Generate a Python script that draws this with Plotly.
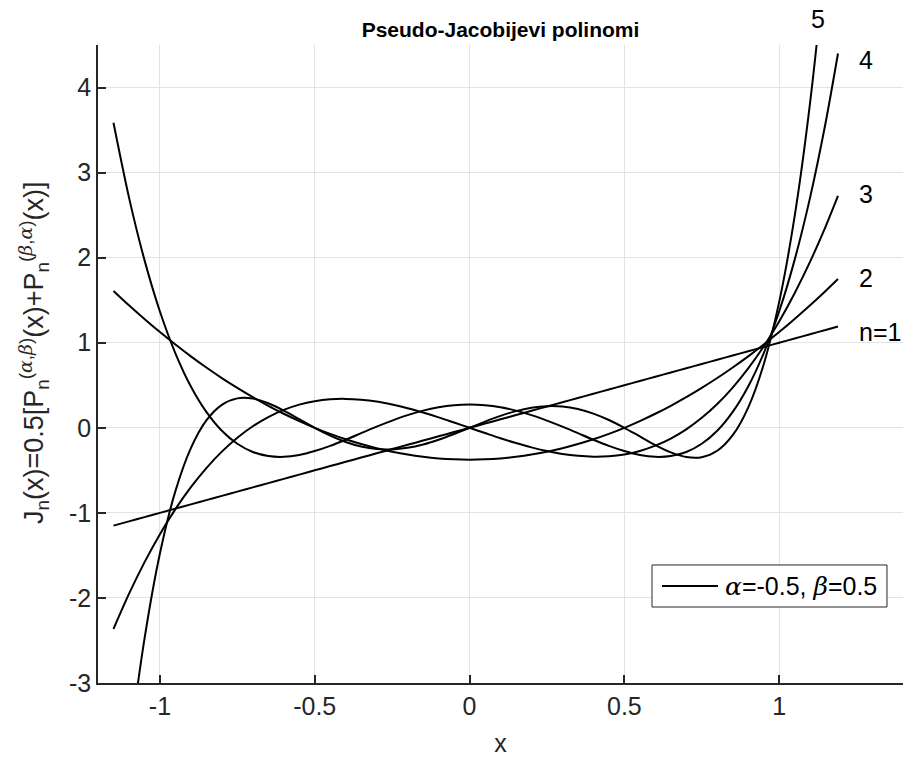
import plotly.graph_objects as go

# Sample abscissae of the curves
x = [-1.15, -1.10, -1.05, -1.00, -0.95, -0.90, -0.85, -0.80, -0.75, -0.70, -0.65, -0.60,
     -0.55, -0.50, -0.45, -0.40, -0.35, -0.30, -0.25, -0.20, -0.15, -0.10, -0.05, 0.00,
     0.05, 0.10, 0.15, 0.20, 0.25, 0.30, 0.35, 0.40, 0.45, 0.50, 0.55, 0.60,
     0.65, 0.70, 0.75, 0.80, 0.85, 0.90, 0.95, 1.00, 1.05, 1.10, 1.15, 1.19]

# Pseudo-Jacobi polynomial values J_n(x), alpha=-0.5, beta=0.5
j1 = [-1.15, -1.10, -1.05, -1.00, -0.95, -0.90, -0.85, -0.80, -0.75, -0.70, -0.65, -0.60,
      -0.55, -0.50, -0.45, -0.40, -0.35, -0.30, -0.25, -0.20, -0.15, -0.10, -0.05, 0.00,
      0.05, 0.10, 0.15, 0.20, 0.25, 0.30, 0.35, 0.40, 0.45, 0.50, 0.55, 0.60,
      0.65, 0.70, 0.75, 0.80, 0.85, 0.90, 0.95, 1.00, 1.05, 1.10, 1.15, 1.19]

j2 = [1.609, 1.440, 1.279, 1.125, 0.979, 0.840, 0.709, 0.585, 0.469, 0.360, 0.259, 0.165,
      0.079, 0.000, -0.071, -0.135, -0.191, -0.240, -0.281, -0.315, -0.341, -0.360, -0.371, -0.375,
      -0.371, -0.360, -0.341, -0.315, -0.281, -0.240, -0.191, -0.135, -0.071, 0.000, 0.079, 0.165,
      0.259, 0.360, 0.469, 0.585, 0.709, 0.840, 0.979, 1.125, 1.279, 1.440, 1.609, 1.749]

j3 = [-2.365, -1.953, -1.582, -1.250, -0.956, -0.698, -0.473, -0.280, -0.117, 0.018, 0.126, 0.210,
      0.272, 0.313, 0.335, 0.340, 0.330, 0.308, 0.273, 0.230, 0.179, 0.123, 0.062, 0.000,
      -0.062, -0.123, -0.179, -0.230, -0.273, -0.308, -0.330, -0.340, -0.335, -0.313, -0.272, -0.210,
      -0.126, -0.018, 0.117, 0.280, 0.473, 0.698, 0.956, 1.250, 1.582, 1.953, 2.365, 2.725]

j4 = [3.586, 2.709, 1.974, 1.367, 0.876, 0.486, 0.187, -0.035, -0.188, -0.284, -0.332, -0.341,
      -0.319, -0.273, -0.212, -0.140, -0.063, 0.014, 0.085, 0.149, 0.202, 0.241, 0.265, 0.273,
      0.265, 0.241, 0.202, 0.149, 0.085, 0.014, -0.063, -0.140, -0.212, -0.273, -0.319, -0.341,
      -0.332, -0.284, -0.188, -0.035, 0.187, 0.486, 0.876, 1.367, 1.974, 2.709, 3.586, 4.400]

j5 = [-5.561, -3.825, -2.485, -1.477, -0.744, -0.238, 0.087, 0.270, 0.346, 0.344, 0.289, 0.203,
      0.102, 0.000, -0.092, -0.167, -0.221, -0.250, -0.254, -0.235, -0.196, -0.140, -0.073, 0.000,
      0.073, 0.140, 0.196, 0.235, 0.254, 0.250, 0.221, 0.167, 0.092, 0.000, -0.102, -0.203,
      -0.289, -0.344, -0.346, -0.270, -0.087, 0.238, 0.744, 1.477, 2.485, 3.825, 5.561, 7.279]

series = [j1, j2, j3, j4, j5]

# Curve labels (data x, data y)
label_text = ["n=1", "2", "3", "4", "5"]
label_x = [1.25, 1.25, 1.25, 1.25, 1.127]
label_y = [1.13, 1.76, 2.75, 4.32, 4.80]
label_anchor = ["left", "left", "left", "left", "center"]

x_ticks = [-1, -0.5, 0, 0.5, 1]
x_tick_text = ["-1", "-0.5", "0", "0.5", "1"]
y_ticks = [-3, -2, -1, 0, 1, 2, 3, 4]
y_tick_text = ["-3", "-2", "-1", "0", "1", "2", "3", "4"]

X_RANGE = [-1.2, 1.4]
Y_RANGE = [-3, 4.5]

FONT = "Liberation Sans, Arial, Helvetica, sans-serif"
SERIF = "DejaVu Serif, serif"
AX = "#262626"
FS = 25


def greek(ch):
    return f'<span style="font-family:{SERIF}"><i>{ch}</i></span>'


def ypaper(v):
    return (v - Y_RANGE[0]) / (Y_RANGE[1] - Y_RANGE[0])


legend_label = f"{greek('α')}=-0.5, {greek('β')}=0.5"

fig = go.Figure()
for i, ys in enumerate(series):
    fig.add_trace(go.Scatter(
        x=x, y=ys, mode="lines",
        line=dict(color="black", width=2, shape="spline", smoothing=0.8),
        name=legend_label, showlegend=False, hoverinfo="skip",
    ))

# curve labels; y goes through paper coords so labels above the axes stay visible
for t, lx, ly, anc in zip(label_text, label_x, label_y, label_anchor):
    fig.add_annotation(x=lx, y=ypaper(ly), xref="x", yref="paper", text=t, showarrow=False,
                       xanchor=anc, yanchor="middle",
                       font=dict(family=FONT, size=FS, color="black"))

# boxed legend: frame, line sample and text
fig.add_shape(type="rect", xref="paper", yref="paper", x0=0.6882, x1=0.9801, y0=0.1191, y1=0.1850,
              line=dict(color=AX, width=1), fillcolor="white", layer="above")
fig.add_shape(type="line", xref="paper", yref="paper", x0=0.7006, x1=0.7702, y0=0.1520, y1=0.1520,
              line=dict(color="black", width=2), layer="above")
fig.add_annotation(x=0.7764, y=0.1520, xref="paper", yref="paper", text=legend_label,
                   showarrow=False, xanchor="left", yanchor="middle",
                   font=dict(family=FONT, size=FS, color="black"))

ylabel = (f"J<sub>n</sub>(x)=0.5[P<sub>n</sub><sup>({greek('α')},{greek('β')})</sup>(x)"
          f"+P<sub>n</sub><sup>({greek('β')},{greek('α')})</sup>(x)]")
fig.add_annotation(x=-0.080, y=0.518, xref="paper", yref="paper", text=ylabel,
                   textangle=-90, showarrow=False, xanchor="center", yanchor="middle",
                   font=dict(family=FONT, size=27, color=AX))

fig.update_layout(
    width=903, height=761,
    margin=dict(l=98, r=0, t=45, b=78),
    paper_bgcolor="white", plot_bgcolor="white",
    font=dict(family=FONT, size=FS, color=AX),
    showlegend=False,
    title=dict(text="<b>Pseudo-Jacobijevi polinomi</b>", x=0.5, xref="paper",
               xanchor="center", y=1 - 30 / 761, yref="container", yanchor="middle",
               font=dict(family=FONT, size=21, color="black")),
    xaxis=dict(range=X_RANGE, tickvals=x_ticks, ticktext=x_tick_text,
               showline=True, linecolor=AX, linewidth=1.5, mirror=False,
               ticks="inside", ticklen=8, tickcolor=AX, tickwidth=1.5,
               showgrid=True, gridcolor="#e3e3e3", gridwidth=1, zeroline=False,
               tickfont=dict(family=FONT, size=FS, color=AX),
               title=dict(text="x", font=dict(family=FONT, size=FS, color=AX), standoff=16)),
    yaxis=dict(range=Y_RANGE, tickvals=y_ticks, ticktext=y_tick_text,
               showline=True, linecolor=AX, linewidth=1.5, mirror=False,
               ticks="inside", ticklen=8, tickcolor=AX, tickwidth=1.5,
               showgrid=True, gridcolor="#e3e3e3", gridwidth=1, zeroline=False,
               tickfont=dict(family=FONT, size=FS, color=AX)),
)

fig.write_html("out.html")
